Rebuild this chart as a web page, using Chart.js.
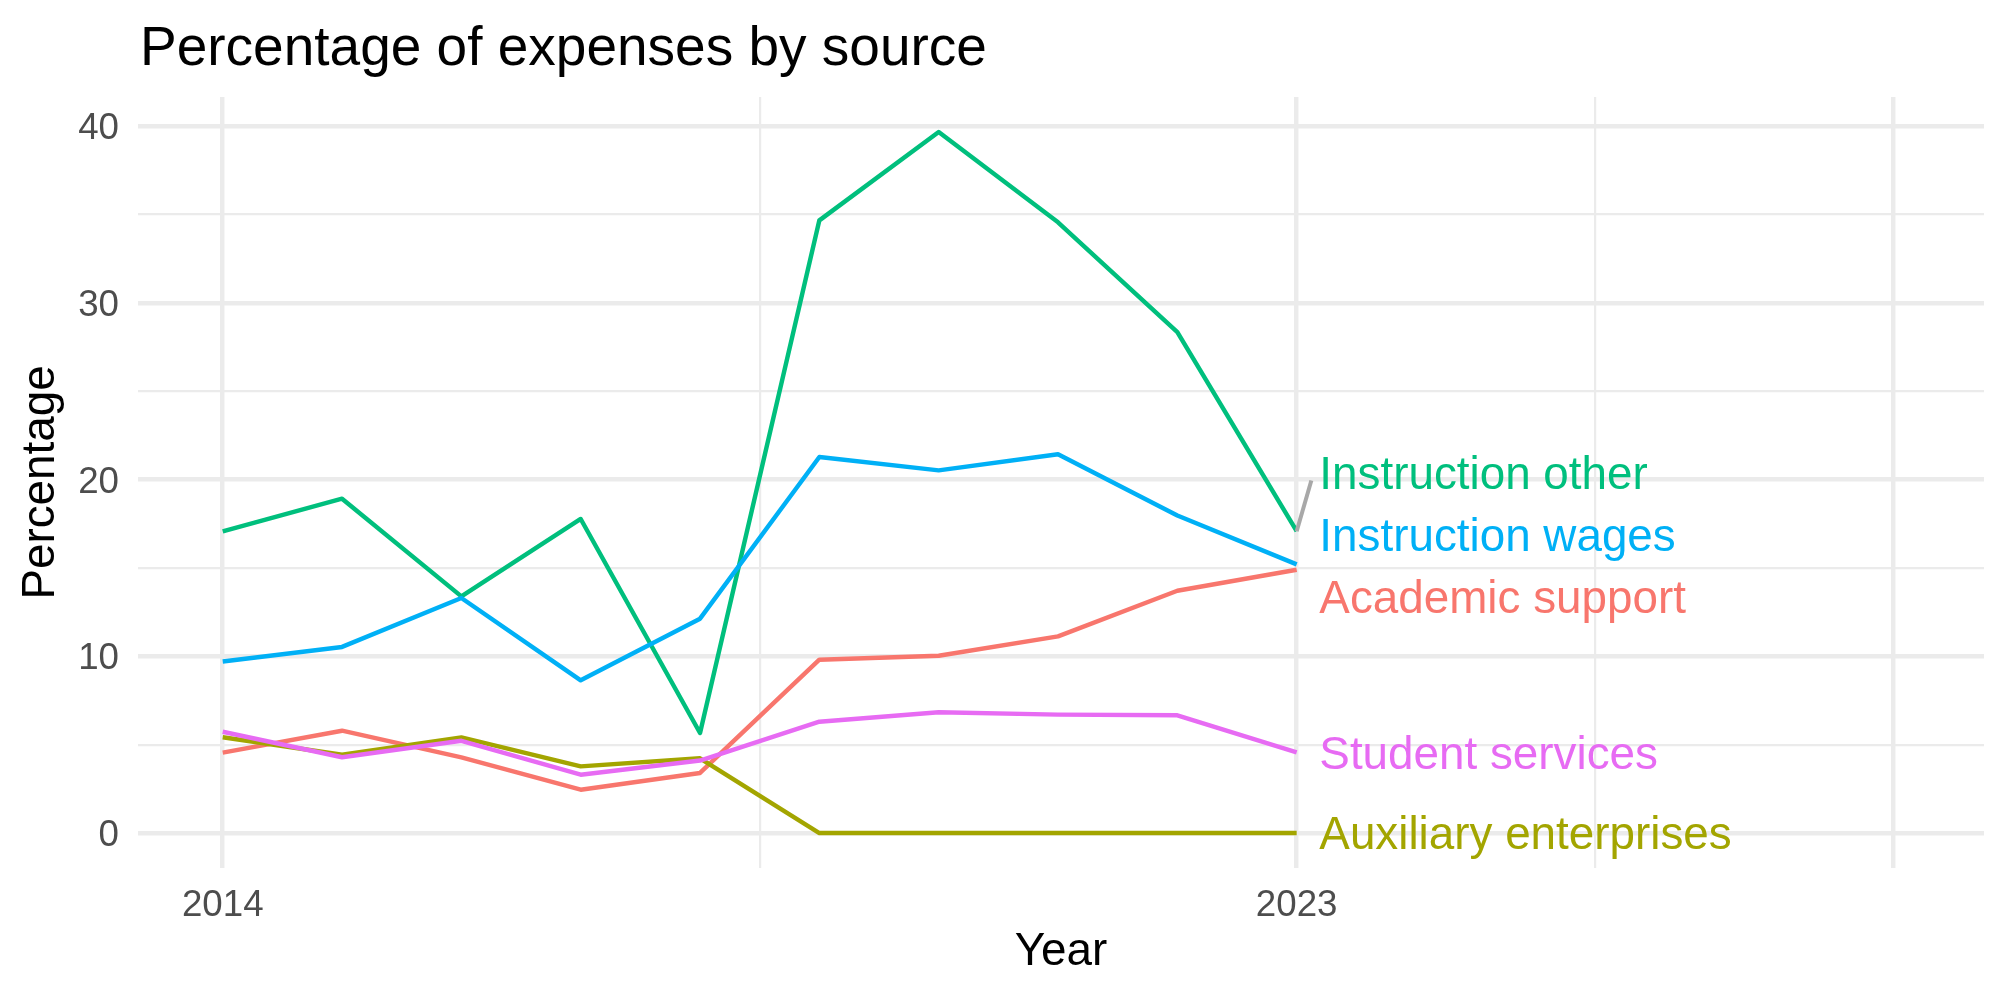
<!DOCTYPE html>
<html>
<head>
<meta charset="utf-8">
<script src="https://cdn.jsdelivr.net/npm/chart.js@4.4.1/dist/chart.umd.min.js"></script>
<style>
  html, body { margin: 0; padding: 0; background: #ffffff; }
  #wrap { width: 2000px; height: 1000px; position: relative; }
</style>
</head>
<body>
<div id="wrap"><canvas id="c" width="2000" height="1000"></canvas></div>
<script>
// ---------------- data ----------------
const years = [2014, 2015, 2016, 2017, 2018, 2019, 2020, 2021, 2022, 2023];
const seriesNames = ['Academic support', 'Auxiliary enterprises', 'Instruction other', 'Instruction wages', 'Student services'];
const academicSupport      = [4.55, 5.79, 4.28, 2.45, 3.40, 9.81, 10.03, 11.13, 13.71, 14.90];
const auxiliaryEnterprises = [5.42, 4.43, 5.41, 3.77, 4.23, 0, 0, 0, 0, 0];
const instructionOther     = [17.07, 18.92, 13.39, 17.77, 5.66, 34.67, 39.67, 34.56, 28.34, 17.08];
const instructionWages     = [9.71, 10.53, 13.30, 8.64, 12.13, 21.28, 20.52, 21.43, 17.97, 15.20];
const studentServices      = [5.73, 4.29, 5.22, 3.30, 4.10, 6.30, 6.83, 6.70, 6.66, 4.57];
const seriesColors = ['#F8766D', '#A3A500', '#00BF7D', '#00B0F6', '#E76BF3'];

const xTickLabels = { 2014: '2014', 2023: '2023' };
const xGridValues = [2014, 2018.5, 2023, 2025.5, 2028];
const xMajorValues = [2014, 2023, 2028];
const yGridValues = [0, 5, 10, 15, 20, 25, 30, 35, 40];
const yTickLabels = [0, 10, 20, 30, 40];

// repelled end-label anchors (data units)
const labelYear = 2023.19;
const labelValues = [13.38, 0, 20.40, 16.86, 4.57];

const titleText = 'Percentage of expenses by source';
const xTitle = 'Year';
const yTitle = 'Percentage';

// ---------------- chart ----------------
const FONT = '"Liberation Sans", Arial, Helvetica, sans-serif';
const seriesValues = [academicSupport, auxiliaryEnterprises, instructionOther, instructionWages, studentServices];

const datasets = seriesNames.map((name, i) => ({
  label: name,
  data: years.map((yr, j) => ({ x: yr, y: seriesValues[i][j] })),
  borderColor: seriesColors[i],
  backgroundColor: seriesColors[i],
  borderWidth: 4.45,
  pointRadius: 0,
  borderJoinStyle: 'round',
  borderCapStyle: 'butt',
  tension: 0,
  fill: false,
  order: seriesNames.length - 1 - i
}));

const titlePlugin = {
  id: 'ggTitle',
  afterDraw(chart) {
    const ctx = chart.ctx;
    ctx.save();
    ctx.font = '55px ' + FONT;
    ctx.fillStyle = '#000000';
    ctx.textAlign = 'left';
    ctx.textBaseline = 'alphabetic';
    ctx.fillText(titleText, chart.chartArea.left + 2, 65);
    ctx.restore();
  }
};

const endLabels = {
  id: 'endLabels',
  afterDatasetsDraw(chart) {
    const ctx = chart.ctx;
    const xs = chart.scales.x, ys = chart.scales.y;
    const fs = 45.8;
    ctx.save();
    ctx.font = fs + 'px ' + FONT;
    ctx.textAlign = 'left';
    ctx.textBaseline = 'alphabetic';
    seriesNames.forEach((name, i) => {
      const px = xs.getPixelForValue(labelYear);
      const cy = ys.getPixelForValue(labelValues[i]);
      const last = seriesValues[i].length - 1;
      const dx = xs.getPixelForValue(years[last]);
      const dy = ys.getPixelForValue(seriesValues[i][last]);
      if (Math.abs(cy - dy) > 40) {
        ctx.beginPath();
        ctx.strokeStyle = '#A8A8A8';
        ctx.lineWidth = 4;
        ctx.lineCap = 'butt';
        ctx.moveTo(dx, dy);
        ctx.lineTo(px - 8, cy + 8);
        ctx.stroke();
      }
      ctx.fillStyle = seriesColors[i];
      ctx.fillText(name, px, cy + 0.358 * fs);
    });
    ctx.restore();
  }
};

new Chart(document.getElementById('c'), {
  type: 'line',
  data: { datasets },
  plugins: [titlePlugin, endLabels],
  options: {
    responsive: false,
    animation: false,
    devicePixelRatio: 1,
    layout: { padding: { left: 0, right: 16, top: 97, bottom: 0 } },
    plugins: {
      legend: { display: false },
      title: { display: false },
      tooltip: { enabled: false }
    },
    scales: {
      x: {
        type: 'linear',
        min: 2013.29,
        max: 2028.76,
        afterBuildTicks: s => { s.ticks = xGridValues.map(v => ({ value: v })); },
        afterFit: s => { s.height = 132; },
        border: { display: false },
        grid: {
          color: '#EBEBEB',
          lineWidth: c => (c.tick && xMajorValues.includes(c.tick.value)) ? 4.45 : 2.2,
          drawTicks: false
        },
        ticks: {
          autoSkip: false,
          maxRotation: 0,
          padding: 16,
          color: '#4D4D4D',
          font: { family: FONT, size: 36.7 },
          callback: v => xTickLabels[v] !== undefined ? xTickLabels[v] : ''
        },
        title: {
          display: true,
          text: xTitle,
          color: '#000000',
          font: { family: FONT, size: 45.8 },
          padding: { top: 0, bottom: 20 }
        }
      },
      y: {
        type: 'linear',
        min: -1.98,
        max: 41.65,
        afterBuildTicks: s => { s.ticks = yGridValues.map(v => ({ value: v })); },
        afterFit: s => { s.width = 138; },
        border: { display: false },
        grid: {
          color: '#EBEBEB',
          lineWidth: c => (c.tick && yTickLabels.includes(c.tick.value)) ? 4.45 : 2.2,
          drawTicks: false
        },
        ticks: {
          autoSkip: false,
          padding: 19,
          labelOffset: 3,
          color: '#4D4D4D',
          font: { family: FONT, size: 36.7 },
          callback: v => yTickLabels.includes(v) ? String(v) : ''
        },
        title: {
          display: true,
          text: yTitle,
          color: '#000000',
          font: { family: FONT, size: 45.8 },
          padding: { top: 13.6, bottom: 0 }
        }
      }
    }
  }
});
</script>
</body>
</html>
